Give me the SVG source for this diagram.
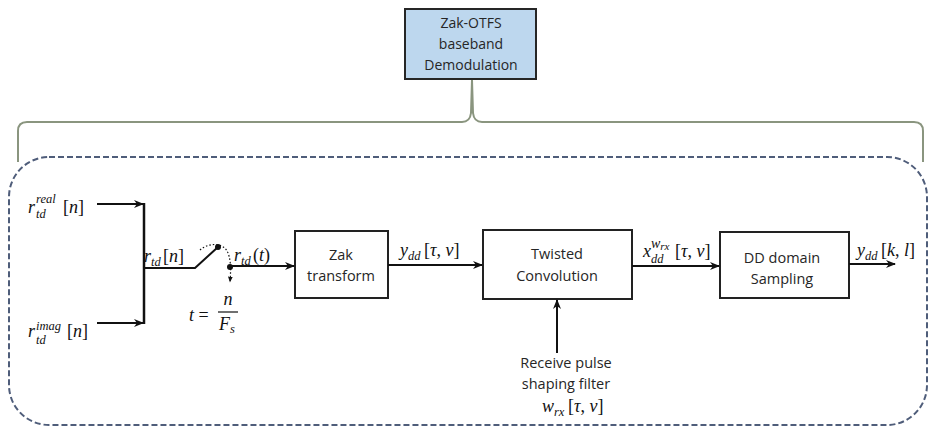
<svg xmlns="http://www.w3.org/2000/svg" width="935" height="427" viewBox="0 0 935 427">
<style>
.box{fill:#fff;stroke:#222;stroke-width:2}
.top{fill:#bdd7ee;stroke:#262626;stroke-width:2}
.lbl{font-family:"Open Sans","Liberation Sans",sans-serif;font-size:14.5px;fill:#262626;text-anchor:middle}
.m{font-family:"Liberation Serif","DejaVu Serif",serif;font-style:italic;font-size:18px;fill:#111}
.ms{font-family:"Liberation Serif","DejaVu Serif",serif;font-style:italic;font-size:12.5px;fill:#111}
.n{font-style:normal}
.w{fill:none;stroke:#111;stroke-width:2}
.wa{fill:none;stroke:#111;stroke-width:2;marker-end:url(#ah)}
</style>
<defs>
<marker id="ah" viewBox="0 0 10 10" refX="9" refY="5" markerWidth="5" markerHeight="5" orient="auto" markerUnits="strokeWidth">
<path d="M0,1 L10,5 L0,9 L3,5 Z" fill="#111"/>
</marker>
<marker id="ahs" viewBox="0 0 10 10" refX="9" refY="5" markerWidth="6" markerHeight="6" orient="auto" markerUnits="userSpaceOnUse">
<path d="M0,1 L10,5 L0,9 Z" fill="#111"/>
</marker>
</defs>

<g id="container">
<rect x="9" y="157" width="918" height="268" rx="40" ry="40" fill="none" stroke="#4f5d7a" stroke-width="2" stroke-dasharray="6,3"/>
</g>

<g id="brace">
<path d="M18,162 L18,131 Q18,122 27,122 L462,122 Q470,122 471,113 L472,80 M472,80 L473,113 Q474,122 482,122 L914,122 Q923,122 923,131 L923,162" fill="none" stroke="#8a957f" stroke-width="2"/>
</g>

<g id="node-top">
<rect class="top" x="405" y="9" width="131" height="70"/>
<text class="lbl" x="471" y="28" style="font-size:14px">Zak-OTFS</text>
<text class="lbl" x="471" y="49" style="font-size:14px">baseband</text>
<text class="lbl" x="471" y="70" style="font-size:14px">Demodulation</text>
</g>

<g id="node-zak">
<rect class="box" x="295" y="231" width="93" height="67"/>
<text class="lbl" x="341" y="260">Zak</text>
<text class="lbl" x="341" y="281">transform</text>
</g>

<g id="node-twisted">
<rect class="box" x="483" y="230" width="149" height="69"/>
<text class="lbl" x="557" y="259">Twisted</text>
<text class="lbl" x="557" y="281">Convolution</text>
</g>

<g id="node-dd">
<rect class="box" x="720" y="232" width="129" height="66"/>
<text class="lbl" x="782" y="263">DD domain</text>
<text class="lbl" x="782" y="284">Sampling</text>
</g>

<g id="connectors">
<line class="wa" x1="97" y1="204" x2="143" y2="204"/>
<line class="wa" x1="97" y1="323" x2="143" y2="323"/>
<line class="w" x1="144" y1="203" x2="144" y2="324" style="stroke-width:2.5"/>
<polyline class="w" points="144,268 195,268 218,247"/>
<circle cx="218" cy="247" r="3" fill="#111"/>
<circle cx="230" cy="267" r="3" fill="#111"/>
<line class="wa" x1="230" y1="266" x2="294" y2="266"/>
<path d="M200,250 C208,243 222,242 227,251 C231,258 231,270 230,282" fill="none" stroke="#111" stroke-width="1.2" stroke-dasharray="1.5,2" marker-end="url(#ahs)"/>
<line class="wa" x1="388" y1="265" x2="482" y2="265"/>
<line class="wa" x1="632" y1="266" x2="719" y2="266"/>
<line class="wa" x1="849" y1="264" x2="895" y2="264"/>
<line class="wa" x1="557" y1="353" x2="557" y2="300"/>
</g>

<g id="labels">
<text class="m" x="28" y="213">r</text>
<text class="ms" x="36" y="203">real</text>
<text class="ms" x="36" y="218">td</text>
<text class="m" x="63" y="213"><tspan class="n">[</tspan>n<tspan class="n">]</tspan></text>

<text class="m" x="28" y="337">r</text>
<text class="ms" x="36" y="330">imag</text>
<text class="ms" x="36" y="344">td</text>
<text class="m" x="67" y="337"><tspan class="n">[</tspan>n<tspan class="n">]</tspan></text>

<text class="m" x="144" y="262">r</text>
<text class="ms" x="151" y="266">td</text>
<text class="m" x="163" y="262"><tspan class="n">[</tspan>n<tspan class="n">]</tspan></text>

<text class="m" x="234" y="261">r</text>
<text class="ms" x="241" y="265">td</text>
<text class="m" x="253" y="261"><tspan class="n">(</tspan>t<tspan class="n">)</tspan></text>

<text class="m" x="189" y="321">t <tspan class="n">=</tspan></text>
<text class="m" x="228" y="305" text-anchor="middle">n</text>
<line x1="218" y1="312" x2="238" y2="312" stroke="#111" stroke-width="1.2"/>
<text class="m" x="219" y="330">F</text>
<text class="ms" x="230" y="333">s</text>

<text class="m" x="400" y="256">y</text>
<text class="ms" x="408" y="260">dd</text>
<text class="m" x="424" y="256"><tspan class="n">[</tspan>τ<tspan class="n">, </tspan>ν<tspan class="n">]</tspan></text>

<text class="m" x="643" y="257">x</text>
<text class="ms" x="651" y="248" style="font-size:14px">w<tspan font-size="11" dy="2">rx</tspan></text>
<text class="ms" x="651" y="263">dd</text>
<text class="m" x="675" y="257"><tspan class="n">[</tspan>τ<tspan class="n">, </tspan>ν<tspan class="n">]</tspan></text>

<text class="m" x="857" y="256">y</text>
<text class="ms" x="865" y="260">dd</text>
<text class="m" x="881" y="256"><tspan class="n">[</tspan>k<tspan class="n">, </tspan>l<tspan class="n">]</tspan></text>

<text class="lbl" x="566" y="368">Receive pulse</text>
<text class="lbl" x="566" y="389">shaping filter</text>
<text class="m" x="542" y="412">w</text>
<text class="ms" x="554" y="416">rx</text>
<text class="m" x="568" y="412"><tspan class="n">[</tspan>τ<tspan class="n">, </tspan>ν<tspan class="n">]</tspan></text>
</g>
</svg>
